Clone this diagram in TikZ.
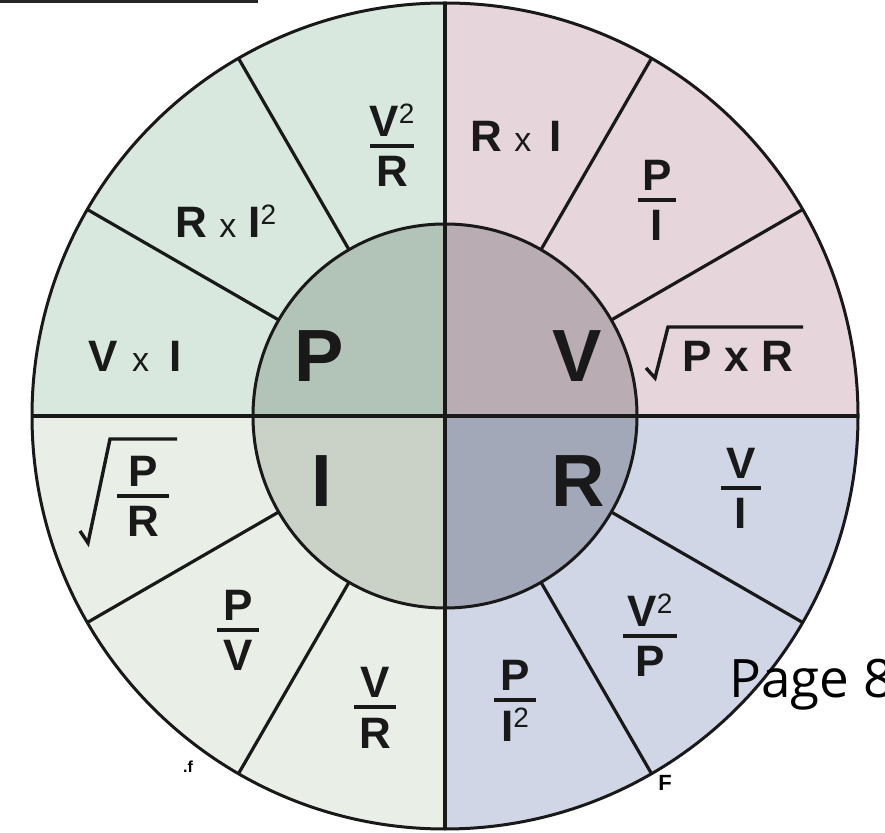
\documentclass[tikz,border=0pt]{standalone}
\usepackage{fontspec}
\setmainfont{Liberation Sans}
\newfontfamily\pagefont{Open Sans}
\definecolor{oP}{RGB}{216,232,222}
\definecolor{oV}{RGB}{230,214,220}
\definecolor{oI}{RGB}{233,238,230}
\definecolor{oR}{RGB}{208,214,230}
\definecolor{iP}{RGB}{178,196,184}
\definecolor{iV}{RGB}{185,173,179}
\definecolor{iI}{RGB}{202,210,199}
\definecolor{iR}{RGB}{162,168,184}
\tikzset{
  seg/.style={line width=3.2pt, black!90},
  ring/.style={line width=3pt, black!90},
  ftext/.style={font=\fontsize{44}{48}\selectfont\bfseries, inner sep=0pt, text=black!90},
  big/.style={font=\fontsize{74}{78}\selectfont\bfseries, inner sep=0pt, text=black!90},
  fbar/.style={line width=3.8pt, black!90},
  radical/.style={line width=3.4pt, black!90, line join=miter}
}
\newcommand\smx[2]{\hspace{#1}{\mdseries\fontsize{34}{36}\selectfont x}\hspace{#2}}
\newcommand\sqr{\raisebox{13pt}{\mdseries\fontsize{28}{30}\selectfont 2}}
\newcommand\fracat[6]{%
  \node[ftext, anchor=base] (#1n) at (#2,#3+9) {#4};
  \node[ftext, anchor=base] (#1d) at (#2,#3-41) {#5};
  \draw[fbar] (#2-#6,#3) -- (#2+#6,#3);
}
\begin{document}
\begin{tikzpicture}[x=1pt,y=1pt]
\useasboundingbox (0,0) rectangle (885,832);
\coordinate (C) at (445,416);
% top-left bar
\fill[black!85] (0,832) rectangle (258,828.5);
% outer quadrants
\fill[oV] (C) -- ++(0:413) arc[start angle=0,end angle=90,radius=413] -- cycle;
\fill[oP] (C) -- ++(90:413) arc[start angle=90,end angle=180,radius=413] -- cycle;
\fill[oI] (C) -- ++(180:413) arc[start angle=180,end angle=270,radius=413] -- cycle;
\fill[oR] (C) -- ++(270:413) arc[start angle=270,end angle=360,radius=413] -- cycle;
% inner quadrants
\fill[iV] (C) -- ++(0:192) arc[start angle=0,end angle=90,radius=192] -- cycle;
\fill[iP] (C) -- ++(90:192) arc[start angle=90,end angle=180,radius=192] -- cycle;
\fill[iI] (C) -- ++(180:192) arc[start angle=180,end angle=270,radius=192] -- cycle;
\fill[iR] (C) -- ++(270:192) arc[start angle=270,end angle=360,radius=192] -- cycle;
% sector lines
\foreach \a in {30,60,120,150,210,240,300,330}
  \draw[seg] (C) ++(\a:192) -- ++(\a:221);
\draw[seg] (C) ++(0,413) -- ++(0,-826);
\draw[seg] (C) ++(-413,0) -- ++(826,0);
% rings
\draw[ring] (C) circle[radius=192];
\draw[ring] (C) circle[radius=413];
% inner letters
\node[big] (P) at (319,476) {P};
\node[big] (V) at (577,476) {V};
\node[big] (I) at (322,351) {I};
\node[big] (R) at (578,351) {R};
% P quadrant
\fracat{pa}{392}{686}{V\sqr}{R}{22}
\node[ftext, anchor=base] (pb) at (226,594) {R\smx{12pt}{12pt}I\sqr};
\node[ftext, anchor=base] (pc) at (135,460) {V\smx{14pt}{20pt}I};
% V quadrant
\node[ftext, anchor=base] (va) at (516,680) {R\smx{12pt}{18pt}I};
\fracat{vb}{657}{632}{P}{I}{19}
\node[ftext, anchor=base] (vc) at (738,460) {P x R};
\draw[radical] (646,464) -- (655,454) -- (668,505) -- (803,505);
% R quadrant
\fracat{ra}{741}{344}{V}{I}{20}
\fracat{rb}{650}{196}{V\sqr}{P}{27}
\fracat{rc}{515}{132}{P}{I\sqr}{21}
% I quadrant
\fracat{ia}{375}{125}{V}{R}{21}
\fracat{ib}{238}{202}{P}{V}{21}
\fracat{ic}{143}{336}{P}{R}{26}
\draw[radical] (80,301) -- (88,289) -- (110,393) -- (177,393);
% small marks
\node[font=\fontsize{22}{24}\selectfont\bfseries, inner sep=0pt] (mf) at (665,49) {F};
\node[font=\fontsize{16}{18}\selectfont\bfseries, inner sep=0pt] (ml) at (188,65) {.f};
% page label
\node[font=\pagefont\fontsize{53}{56}\selectfont, anchor=base west, inner sep=0pt] (pg) at (729,134) {Page 8};
\end{tikzpicture}
\end{document}
